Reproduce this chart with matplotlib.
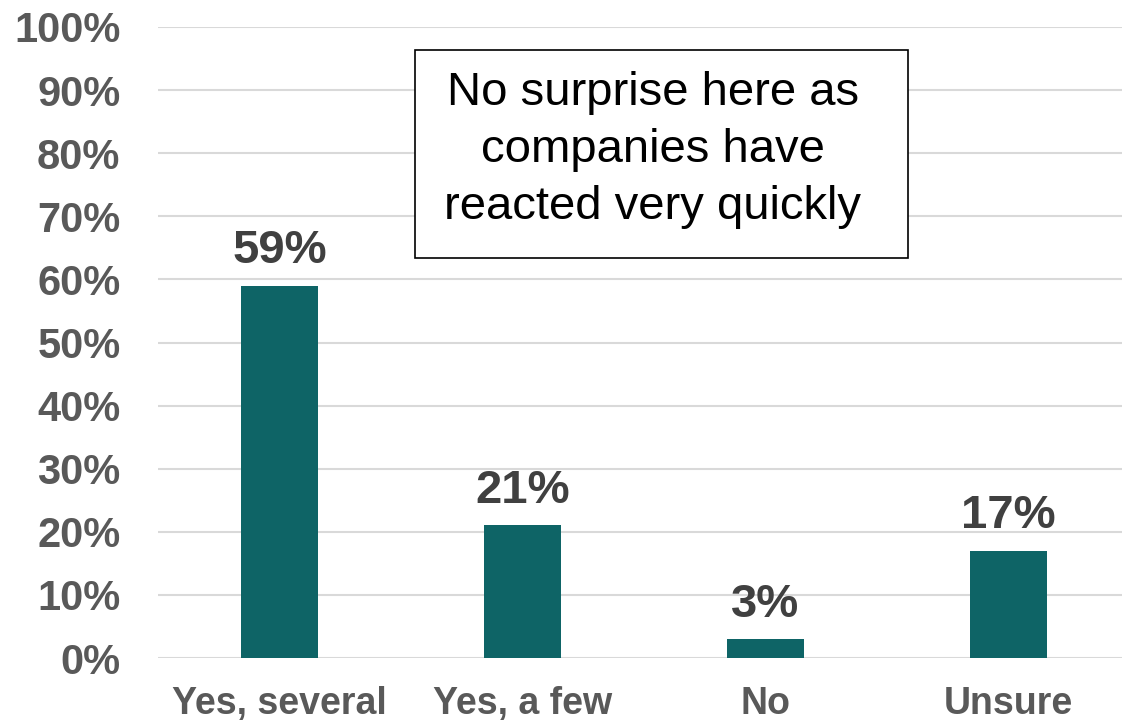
import matplotlib
matplotlib.use("Agg")
import matplotlib.pyplot as plt
from matplotlib.patches import Rectangle

categories = ["Yes, several", "Yes, a few", "No", "Unsure"]
values = [59, 21, 3, 17]
yticks = [0, 10, 20, 30, 40, 50, 60, 70, 80, 90, 100]
note = "No surprise here as\ncompanies have\nreacted very quickly"

bar_color = "#0E6466"
grid_color = "#D9D9D9"
tick_color = "#595959"
label_color = "#404040"

plt.rcParams["font.family"] = ["Liberation Sans", "DejaVu Sans"]

fig = plt.figure(figsize=(11.22, 7.22), dpi=100)
ax = fig.add_axes([158 / 1122, 64 / 722, 1 - 158 / 1122, 631 / 722])

x = list(range(len(categories)))
bars = ax.bar(x, values, width=0.317, color=bar_color, zorder=3)

ax.set_xlim(-0.5, 3.467)
ax.set_ylim(0, 100)
ax.set_yticks(yticks)
ax.set_yticklabels([f"{v}%" for v in yticks])
ax.set_xticks(x)
ax.set_xticklabels(categories)

ax.yaxis.grid(True, color=grid_color, linewidth=1.5, zorder=0)
ax.set_axisbelow(True)
for side in ["top", "right", "left", "bottom"]:
    ax.spines[side].set_visible(False)
ax.tick_params(axis="both", length=0)
ax.tick_params(axis="y", pad=27, labelsize=30, labelcolor=tick_color)
ax.tick_params(axis="x", pad=20, labelsize=27, labelcolor=tick_color)
for lbl in ax.get_yticklabels() + ax.get_xticklabels():
    lbl.set_fontweight("bold")

for rect, v in zip(bars, values):
    ax.annotate(f"{v}%", (rect.get_x() + rect.get_width() / 2, v),
                xytext=(0, 9), textcoords="offset points",
                ha="center", va="bottom", fontsize=34, fontweight="bold",
                color=label_color)

# Comment box
box = Rectangle((415 / 1122, (722 - 258) / 722), (908 - 415) / 1122, 208 / 722,
                transform=fig.transFigure, facecolor="white",
                edgecolor="black", linewidth=1.2, zorder=5)
fig.patches.append(box)
fig.text(653 / 1122, (722 - 150) / 722, note, ha="center", va="center",
         fontsize=34, color="black", linespacing=1.38, zorder=6)

fig.savefig("out.png", dpi=100)
